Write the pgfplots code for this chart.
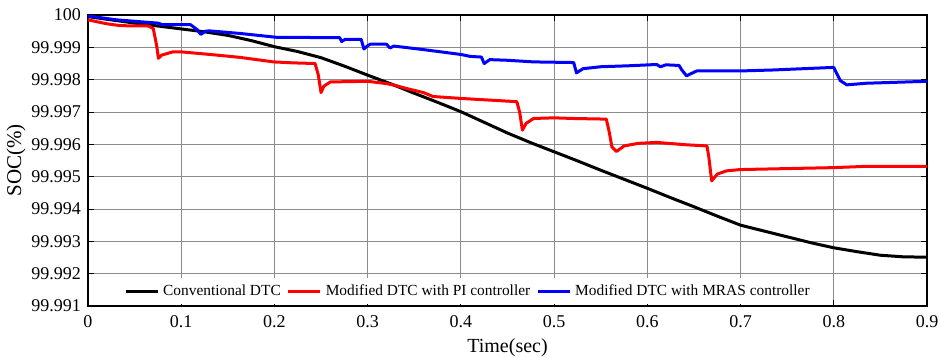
\documentclass[border=0pt]{standalone}
\usepackage{fontspec}
\setmainfont{Liberation Serif}
\usepackage{pgfplots}
\pgfplotsset{compat=1.18}

% SOC values are written in full (99.99xxx). The parser below turns a value,
% raw or already in pgf's float format, into integer steps of 1e-6 above
% 99.99, so the tiny differences between the curves are kept exactly.
\makeatletter
\def\soc@firstsix#1#2#3#4#5#6#7\relax{#1#2#3#4#5#6}
\def\soc@pow#1{\ifcase #1 1\or 10\or 100\or 1000\fi}
\def\soc@raw#1.#2.#3\relax{%
  \the\numexpr #1*1000000+1\soc@firstsix#2000000\relax-1000000-99990000\relax}
\def\soc@flt#1Y#2.#3e#4]{%
  \the\numexpr (#2*1000000+1\soc@firstsix#3000000\relax-1000000)*\soc@pow{#4}-99990000\relax}
\def\socparse#1{%
  \in@{Y}{#1}%
  \ifin@\edef\pgfmathresult{\soc@flt#1}%
  \else\edef\pgfmathresult{\soc@raw#1..\relax}\fi}
\makeatother

\begin{document}
\begin{tikzpicture}
\useasboundingbox (-44pt,-26pt) rectangle (426.5pt,153pt);
\begin{axis}[
  scale only axis,
  width=419.5pt, height=145.5pt,
  at={(0,0)}, anchor=south west,
  y coord trafo/.code={\socparse{#1}},
  scaled y ticks=false,
  xmin=0, xmax=0.9,
  ymin=99.99100, ymax=100.00000,
  xtick={0,0.1,0.2,0.3,0.4,0.5,0.6,0.7,0.8,0.9},
  xticklabels={0,0.1,0.2,0.3,0.4,0.5,0.6,0.7,0.8,0.9},
  ytick={99.99100,99.99200,99.99300,99.99400,99.99500,99.99600,99.99700,99.99800,99.99900,100.00000},
  yticklabels={99.991,99.992,99.993,99.994,99.995,99.996,99.997,99.998,99.999,100},
  tick align=inside,
  major tick length=3pt,
  tick style={black, line width=0.5pt},
  grid=major,
  grid style={solid, black!45, line width=0.45pt},
  axis line style={line width=0.8pt},
  tick label style={font=\fontsize{9}{10}\selectfont},
  xticklabel style={yshift=-1pt},
  xlabel={Time(sec)},
  ylabel={SOC(\%)},
  ylabel shift=-4pt,
  xlabel shift=-1pt,
  xlabel style={font=\fontsize{10}{12}\selectfont},
  ylabel style={font=\fontsize{10.5}{12}\selectfont},
  legend columns=3,
  legend style={at={(0.454,0.005)}, anchor=south, draw=none, fill=white,
    font=\fontsize{7.7}{9}\selectfont, inner sep=1pt,
    /tikz/every even column/.append style={column sep=1pt}},
  legend image code/.code={\draw[#1] (0pt,0pt) -- (16pt,0pt);},
  every axis plot/.append style={line width=1.5pt, line join=round},
]
% Conventional DTC
\addplot[black] coordinates {
 (0,99.99995) (0.025,99.99985) (0.05,99.99975) (0.075,99.99966) (0.1,99.99957)
 (0.125,99.99948) (0.15,99.99937) (0.175,99.99921) (0.2,99.99902) (0.225,99.99887)
 (0.25,99.99868) (0.275,99.99842) (0.3,99.99814) (0.325,99.99787) (0.35,99.99758)
 (0.375,99.99730) (0.4,99.99701) (0.425,99.99668) (0.45,99.99635) (0.475,99.99605)
 (0.5,99.99577) (0.525,99.99549) (0.55,99.99520) (0.575,99.99492) (0.6,99.99464)
 (0.625,99.99435) (0.65,99.99407) (0.675,99.99378) (0.7,99.99350) (0.725,99.99332)
 (0.75,99.99314) (0.775,99.99296) (0.8,99.99280) (0.825,99.99268) (0.85,99.99257)
 (0.875,99.99252) (0.9,99.99251)
};
\addlegendentry{Conventional DTC}
% Modified DTC with PI controller
\addplot[red] coordinates {
 (0,99.99985) (0.02,99.99973) (0.035,99.99967) (0.065,99.99966) (0.070,99.99958)
 (0.0737,99.99905) (0.0755,99.99866) (0.079,99.99876) (0.091,99.99886) (0.1,99.99886)
 (0.131,99.99878) (0.163,99.99869) (0.199,99.99855) (0.22,99.99852) (0.2436,99.99850)
 (0.247,99.99815) (0.250,99.99760) (0.253,99.99780) (0.26,99.99793) (0.3,99.99795)
 (0.32,99.99788) (0.33,99.99782) (0.34,99.99774) (0.36,99.99760) (0.37,99.99748)
 (0.4,99.99742) (0.43,99.99737) (0.46,99.99732) (0.463,99.99700) (0.466,99.99644)
 (0.47,99.99665) (0.478,99.99680) (0.5,99.99682) (0.52,99.99680) (0.556,99.99678)
 (0.559,99.99640) (0.562,99.99592) (0.567,99.99578) (0.575,99.99595) (0.59,99.99603)
 (0.61,99.99606) (0.64,99.99599) (0.664,99.99595) (0.666,99.99560) (0.669,99.99487)
 (0.675,99.99508) (0.685,99.99518) (0.7,99.99522) (0.75,99.99525) (0.8,99.99528)
 (0.835,99.99532) (0.9,99.99532)
};
\addlegendentry{Modified DTC with PI controller}
% Modified DTC with MRAS controller
\addplot[blue] coordinates {
 (0,99.99997) (0.031,99.99985) (0.066,99.99977) (0.075,99.99975) (0.08,99.99970)
 (0.11,99.99970) (0.117,99.99955) (0.121,99.99940) (0.126,99.99950) (0.13,99.99951)
 (0.163,99.99943) (0.2025,99.99931) (0.27,99.99930) (0.272,99.99918) (0.276,99.99925)
 (0.293,99.99925) (0.296,99.99895) (0.300,99.99905) (0.303,99.99910) (0.32,99.99910)
 (0.324,99.99898) (0.328,99.99904) (0.36,99.99893) (0.4,99.99878) (0.41,99.99872)
 (0.422,99.99870) (0.425,99.99850) (0.431,99.99862) (0.45,99.99860) (0.478,99.99855)
 (0.521,99.99853) (0.524,99.99821) (0.531,99.99834) (0.55,99.99840) (0.58,99.99843)
 (0.61,99.99847) (0.614,99.99840) (0.62,99.99846) (0.634,99.99844) (0.637,99.99830)
 (0.642,99.99812) (0.653,99.99827) (0.7,99.99827) (0.735,99.99830) (0.8,99.99838)
 (0.803,99.99820) (0.807,99.99797) (0.814,99.99784) (0.835,99.99789) (0.9,99.99795)
};
\addlegendentry{Modified DTC with MRAS controller}
\end{axis}
\end{tikzpicture}
\end{document}
